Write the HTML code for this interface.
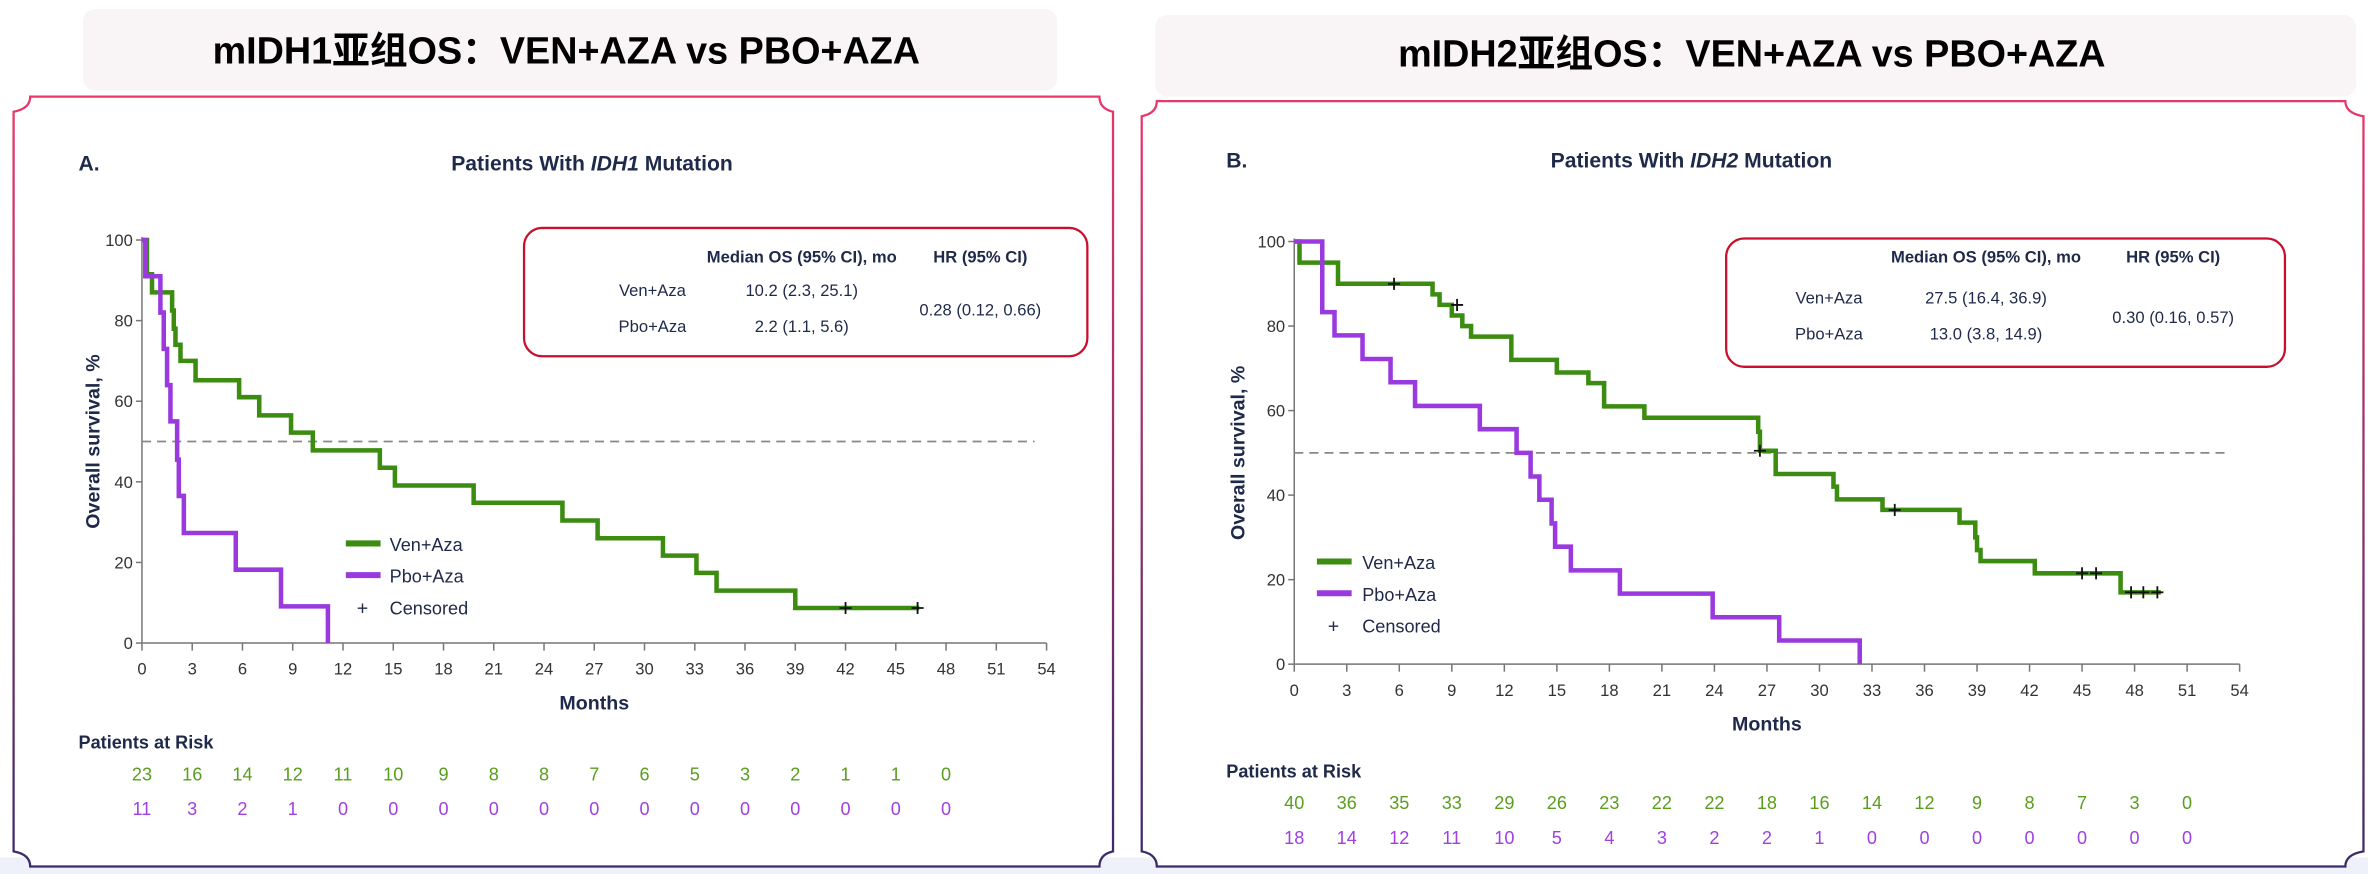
<!DOCTYPE html>
<html><head><meta charset="utf-8"><style>
html,body{margin:0;padding:0;background:#fff;width:2368px;height:874px;overflow:hidden}
svg{display:block}
text{font-family:"Liberation Sans","Noto Sans CJK SC",sans-serif;fill:#1f2a4a}
.t{font-family:"Liberation Sans","Noto Sans CJK SC",sans-serif;font-weight:bold;font-size:25px;fill:#000}
.tick{font-size:11px;fill:#333}
.g{fill:#5a9e1e;font-size:12px}
.p{fill:#a040e0;font-size:12px}
</style></head><body>
<svg id="s" width="2368" height="874" viewBox="0 0 1568 579" preserveAspectRatio="none" xmlns="http://www.w3.org/2000/svg">
<defs>
<linearGradient id="fr" x1="0" y1="0" x2="0" y2="1"><stop offset="0" stop-color="#e8386a"/><stop offset="1" stop-color="#3a2a6a"/></linearGradient>
<linearGradient id="tl" x1="0" y1="0" x2="1" y2="0"><stop offset="0" stop-color="#f07090"/><stop offset="1" stop-color="#5a4a9a"/></linearGradient>
</defs>
<rect x="0" y="568" width="1568" height="11" fill="#eef0fa"/>
<rect x="55" y="6" width="645" height="54" rx="8" fill="#f9f4f6"/>
<line x1="60" y1="6.5" x2="695" y2="6.5" stroke="url(#tl)" stroke-width="1"/>
<line x1="60" y1="59.5" x2="695" y2="59.5" stroke="url(#tl)" stroke-width="1.5"/>
<text x="375" y="42" text-anchor="middle" class="t">mIDH1亚组OS：VEN+AZA vs PBO+AZA</text>
<rect x="765" y="10" width="795" height="54" rx="8" fill="#f9f4f6"/>
<line x1="770" y1="10.5" x2="1555" y2="10.5" stroke="url(#tl)" stroke-width="1"/>
<line x1="770" y1="63.5" x2="1555" y2="63.5" stroke="url(#tl)" stroke-width="1.5"/>
<text x="1160" y="44" text-anchor="middle" class="t">mIDH2亚组OS：VEN+AZA vs PBO+AZA</text>
<path d="M20 64 H728 Q728 72 737 74 V564 Q728 566 728 574 H20 Q20 566 9 564 V74 Q20 72 20 64 Z" fill="#fff" stroke="url(#fr)" stroke-width="1.5"/>
<path d="M766 67 H1553 Q1553 75 1565 77 V564 Q1553 566 1553 574 H766 Q766 566 756 564 V77 Q766 75 766 67 Z" fill="#fff" stroke="url(#fr)" stroke-width="1.5"/>
<g id="L"></g><g id="R"></g>
</svg>
<script>
var NS="http://www.w3.org/2000/svg";
function el(p,n,a,t){var e=document.createElementNS(NS,n);for(var k in a)e.setAttribute(k,a[k]);if(t!=null)e.textContent=t;p.appendChild(e);return e;}
function chart(g,o){
 var X=function(m){return o.x0+(o.x54-o.x0)*m/54},Y=function(v){return o.y0-(o.y0-o.y100)*v/100};
 el(g,"text",{x:o.lx,y:o.ty,"font-size":14,"font-weight":"bold"},o.letter);
 var t=el(g,"text",{x:o.tc,y:o.ty,"font-size":14,"font-weight":"bold","text-anchor":"middle"});
 t.innerHTML='Patients With <tspan font-style="italic">'+o.idh+'</tspan> Mutation';
 el(g,"line",{x1:o.x0,y1:o.y100-2,x2:o.x0,y2:o.y0,stroke:"#777","stroke-width":1});
 el(g,"line",{x1:o.x0,y1:o.y0,x2:o.x54,y2:o.y0,stroke:"#777","stroke-width":1});
 for(var v=0;v<=100;v+=20){el(g,"line",{x1:o.x0-4,y1:Y(v),x2:o.x0,y2:Y(v),stroke:"#777"});el(g,"text",{x:o.x0-6,y:Y(v)+4,"text-anchor":"end",class:"tick"},v);}
 for(var m=0;m<=54;m+=3){el(g,"line",{x1:X(m),y1:o.y0,x2:X(m),y2:o.y0+5,stroke:"#777"});el(g,"text",{x:X(m),y:o.y0+21,"text-anchor":"middle",class:"tick"},m);}
 el(g,"text",{x:(o.x0+o.x54)/2,y:o.y0+44,"text-anchor":"middle","font-size":13,"font-weight":"bold"},"Months");
 el(g,"text",{x:0,y:0,"font-size":13,"font-weight":"bold","text-anchor":"middle",transform:"translate("+o.ylx+","+((o.y0+o.y100)/2)+") rotate(-90)"},"Overall survival, %");
 el(g,"line",{x1:o.x0,y1:Y(50),x2:X(54)-8,y2:Y(50),stroke:"#888","stroke-width":1.2,"stroke-dasharray":"6,4"});
 function path(d,c,end){var s="M"+X(0)+" "+Y(100);for(var i=0;i<d.length;i++){s+=" H"+X(d[i][0])+" V"+Y(d[i][1]);}s+=" H"+X(end);el(g,"path",{d:s,fill:"none",stroke:c,"stroke-width":3});}
 path(o.ven,"#3c8c12",o.vend);path(o.pbo,"#9a3ade",o.pend);
 o.cens.forEach(function(c){var x=X(c[0]),y=Y(c[1]);el(g,"path",{d:"M"+(x-4)+" "+y+"H"+(x+4)+"M"+x+" "+(y-4)+"V"+(y+4),stroke:"#111","stroke-width":1.2});});
 var L=o.leg;
 el(g,"line",{x1:L[0],y1:L[1],x2:L[0]+23,y2:L[1],stroke:"#3c8c12","stroke-width":4});
 el(g,"text",{x:L[2],y:L[1]+5,"font-size":12},"Ven+Aza");
 el(g,"line",{x1:L[0],y1:L[1]+21,x2:L[0]+23,y2:L[1]+21,stroke:"#9a3ade","stroke-width":4});
 el(g,"text",{x:L[2],y:L[1]+26,"font-size":12},"Pbo+Aza");
 el(g,"text",{x:L[0]+11,y:L[1]+47,"font-size":13,"text-anchor":"middle"},"+");
 el(g,"text",{x:L[2],y:L[1]+47,"font-size":12},"Censored");
 var B=o.box,C=o.cols,R=o.rows;
 el(g,"rect",{x:B[0],y:B[1],width:B[2],height:B[3],rx:12,fill:"none",stroke:"#c8102e","stroke-width":1.5});
 var cx0=B[0]+B[2]*C[0],cx1=B[0]+B[2]*C[1],cx2=B[0]+B[2]*C[2];
 el(g,"text",{x:cx1,y:R[0],"font-size":11,"font-weight":"bold","text-anchor":"middle"},"Median OS (95% CI), mo");
 el(g,"text",{x:cx2,y:R[0],"font-size":11,"font-weight":"bold","text-anchor":"middle"},"HR (95% CI)");
 el(g,"text",{x:cx0,y:R[1],"font-size":11,"text-anchor":"middle"},"Ven+Aza");
 el(g,"text",{x:cx0,y:R[2],"font-size":11,"text-anchor":"middle"},"Pbo+Aza");
 el(g,"text",{x:cx1,y:R[1],"font-size":11,"text-anchor":"middle"},o.m1);
 el(g,"text",{x:cx1,y:R[2],"font-size":11,"text-anchor":"middle"},o.m2);
 el(g,"text",{x:cx2,y:R[3],"font-size":11,"text-anchor":"middle"},o.hr);
 el(g,"text",{x:o.lx,y:o.ry,"font-size":12,"font-weight":"bold"},"Patients at Risk");
 o.r1.forEach(function(v,i){el(g,"text",{x:X(i*3),y:o.ry+21,"text-anchor":"middle",class:"g"},v);});
 o.r2.forEach(function(v,i){el(g,"text",{x:X(i*3),y:o.ry+44,"text-anchor":"middle",class:"p"},v);});
}
chart(document.getElementById("L"),{x0:94,x54:693,y100:159,y0:426,lx:52,tc:392,ty:113,letter:"A.",idh:"IDH1",ylx:66,
 ven:[[0.3,91.5],[0.6,87],[1.8,82.5],[1.9,78],[2.0,74],[2.3,70],[3.2,65.2],[5.8,61],[7.0,56.5],[8.9,52.2],[10.2,47.8],[14.2,43.5],[15.1,39.1],[19.8,34.8],[25.1,30.4],[27.2,26],[31.1,21.7],[33.1,17.4],[34.3,13],[39.0,8.7]],vend:46.4,
 pbo:[[0.2,91],[1.1,82],[1.3,73],[1.5,64],[1.7,55],[2.1,45.5],[2.2,36.5],[2.5,27.3],[5.6,18.2],[8.3,9.1],[11.1,0]],pend:11.1,
 cens:[[42,8.7],[46.3,8.7]],leg:[229,360,258],box:[347,151,373,85],cols:[0.228,0.493,0.81],rows:[174,196,220,209],
 m1:"10.2 (2.3, 25.1)",m2:"2.2 (1.1, 5.6)",hr:"0.28 (0.12, 0.66)",
 ry:496,r1:[23,16,14,12,11,10,9,8,8,7,6,5,3,2,1,1,0],r2:[11,3,2,1,0,0,0,0,0,0,0,0,0,0,0,0,0]});
chart(document.getElementById("R"),{x0:857,x54:1483,y100:160,y0:440,lx:812,tc:1120,ty:111,letter:"B.",idh:"IDH2",ylx:824,
 ven:[[0.3,95],[2.5,90],[7.9,87.5],[8.3,85],[9.0,82.5],[9.6,80],[10.1,77.5],[12.4,72],[15.0,69],[16.8,66.5],[17.7,61],[20.0,58.3],[26.5,55],[26.6,50.5],[27.5,45],[30.8,42],[31.0,39],[33.6,36.5],[38.0,33.5],[38.9,30],[39.0,27],[39.2,24.4],[42.3,21.5],[47.2,17]],vend:49.5,
 pbo:[[1.6,94.4],[1.6,83.3],[2.3,77.8],[3.9,72.2],[5.5,66.7],[6.9,61.1],[10.6,55.6],[12.7,50],[13.5,44.4],[14.0,38.9],[14.7,33.3],[14.9,27.8],[15.8,22.2],[18.6,16.7],[23.9,11.1],[27.7,5.6],[32.3,0]],pend:32.3,
 cens:[[5.7,90],[9.3,85],[26.6,50.5],[34.3,36.5],[45.0,21.5],[45.8,21.5],[47.8,17],[48.5,17],[49.3,17]],leg:[872,372,902],box:[1143,158,370,85],cols:[0.184,0.465,0.80],rows:[174,201,225,214],
 m1:"27.5 (16.4, 36.9)",m2:"13.0 (3.8, 14.9)",hr:"0.30 (0.16, 0.57)",
 ry:515,r1:[40,36,35,33,29,26,23,22,22,18,16,14,12,9,8,7,3,0],r2:[18,14,12,11,10,5,4,3,2,2,1,0,0,0,0,0,0,0]});
</script>
</body></html>
